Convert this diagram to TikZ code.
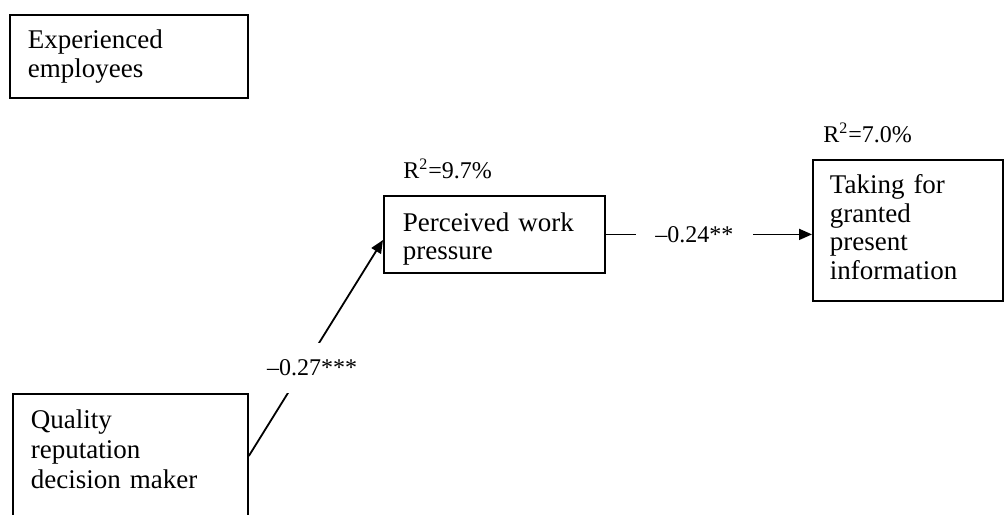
\documentclass[tikz,border=0pt]{standalone}
\usepackage{fontspec}
\setmainfont{Liberation Serif}
\usetikzlibrary{arrows.meta,calc}
\begin{document}
\begin{tikzpicture}[x=0.5pt,y=-0.5pt,
  box/.style={draw, line width=0.9pt, anchor=north west, align=left,
    inner ysep=0pt, font=\fontsize{13.5}{14.25}\selectfont},
  lab/.style={font=\fontsize{12}{14}\selectfont, inner sep=0pt},
  arr/.style={line width=0.9pt, -{Triangle[length=6.5pt,width=5.5pt]}}]
\clip (0,0) rectangle (1005,514);
\fill[white] (0,0) rectangle (1005,514);
% boxes
\node[box, inner xsep=9pt, text width=101pt, text height=17pt, text depth=24.5pt]
  (exp) at (9,14) {Experienced\\employees};
\node[box, inner xsep=9.5pt, text width=91.5pt, text height=17.75pt, text depth=20.75pt]
  (pwp) at (383,195) {Perceived work\\pressure};
\node[box, inner xsep=8.5pt, text width=78pt, text height=17pt, text depth=53.5pt]
  (take) at (812,159) {Taking for\\granted\\present\\information};
\node[box, inner xsep=9pt, text width=99.5pt, text height=17.5pt, text depth=75pt,
  font=\fontsize{13.5}{15}\selectfont]
  (qual) at (12,393) {Quality\\reputation\\decision maker};
% R^2 labels
\node[lab, anchor=base west] (r1) at (403,178) {R\textsuperscript{2}=9.7\%};
\node[lab, anchor=base west] (r2) at (823,142) {R\textsuperscript{2}=7.0\%};
% connectors
\draw[arr] (pwp.east) -- node[lab, fill=white, pos=0.43, minimum width=58.5pt, minimum height=12pt] (l24) {\textendash0.24**} (pwp.east -| take.west);
\draw[arr] ($(qual.north east)+(0,63)$) -- ($(pwp.north west)+(0,45)$);
\node[lab, fill=white, minimum width=42.5pt, minimum height=25pt] (l27) at (312,368) {\textendash0.27***};
\end{tikzpicture}
\end{document}
